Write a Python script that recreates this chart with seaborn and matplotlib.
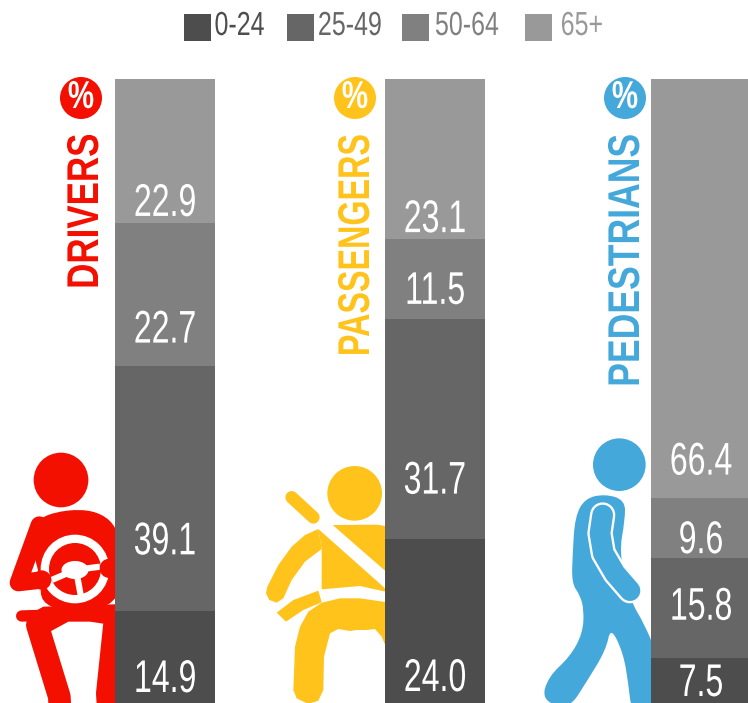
import matplotlib
matplotlib.use('Agg')
import matplotlib.pyplot as plt
from matplotlib.patches import Circle, Ellipse, PathPatch, Polygon, Rectangle
from matplotlib.path import Path
from matplotlib.patheffects import AbstractPathEffect
from matplotlib.transforms import Affine2D
import seaborn as sns
import pandas as pd

groups = ['DRIVERS', 'PASSENGERS', 'PEDESTRIANS']
ages = ['0-24', '25-49', '50-64', '65+']
drivers = [14.9, 39.1, 22.7, 22.9]
passengers = [24.0, 31.7, 11.5, 23.1]
pedestrians = [7.5, 15.8, 9.6, 66.4]

age_colors = ['#4d4d4d', '#666666', '#808080', '#999999']
group_colors = ['#f31000', '#ffc31b', '#45a8db']

W, H = 748, 703
FONT = ['Liberation Sans', 'DejaVu Sans']


class Squeeze(AbstractPathEffect):
    # no narrow font installed, so squash the glyphs along the baseline
    def __init__(self, sx, keep_end=False):
        super().__init__()
        self.sx = sx
        self.keep_end = keep_end

    def draw_path(self, renderer, gc, tpath, affine, rgbFace=None):
        ext = tpath.get_extents()
        pin = ext.x1 if self.keep_end else (ext.x0 + ext.x1) / 2
        local = Affine2D().translate(-pin, 0).scale(self.sx, 1).translate(pin, 0)
        renderer.draw_path(gc, tpath, local + affine, rgbFace)


rows = []
for g, vals in zip(groups, [drivers, passengers, pedestrians]):
    for a, v in zip(ages, vals):
        rows.append({'group': g, 'age': a, 'value': v})
df = pd.DataFrame(rows)
df['share'] = df['value'] / df.groupby('group')['value'].transform('sum')
df['top'] = df.groupby('group')['share'].cumsum()
df['base'] = df['top'] - df['share']

sns.set_style('white')
plt.rcParams['font.family'] = FONT
fig = plt.figure(figsize=(W / 100, H / 100), dpi=100)

# icons and titles go underneath, in pixel coords
bg = fig.add_axes([0, 0, 1, 1], zorder=0)
bg.set_xlim(0, W)
bg.set_ylim(H, 0)
bg.axis('off')


def to_px(pts, ox, oy):
    # pts are in 3x crop coords
    return [(ox + p[0] / 3, oy + p[1] / 3) for p in pts]


def line(pts, ox, oy, color, width, zorder=2):
    px = to_px(pts, ox, oy)
    bg.plot([p[0] for p in px], [p[1] for p in px], color=color, lw=width * 0.72 / 3,
            solid_capstyle='round', solid_joinstyle='round', zorder=zorder)


def poly(pts, ox, oy, color):
    bg.add_patch(Polygon(to_px(pts, ox, oy), closed=True, fc=color, ec='none', zorder=2))


def blob(pts, ox, oy, color):
    # closed quadratic spline through the edge midpoints, rounds off the corners
    px = to_px(pts, ox, oy)
    mids = [((px[i][0] + px[(i + 1) % len(px)][0]) / 2, (px[i][1] + px[(i + 1) % len(px)][1]) / 2)
            for i in range(len(px))]
    verts = [mids[-1]]
    codes = [Path.MOVETO]
    for i in range(len(px)):
        verts += [px[i], mids[i]]
        codes += [Path.CURVE3, Path.CURVE3]
    bg.add_patch(PathPatch(Path(verts, codes), fc=color, ec='none', zorder=2))


def disc(x, y, r, ox, oy, color, zorder=2):
    bg.add_patch(Circle((ox + x / 3, oy + y / 3), r / 3, fc=color, ec='none', zorder=zorder))


# driver
c = group_colors[0]
ox, oy = 0, 430
disc(183, 150, 82, ox, oy, c)
blob([(118, 252), (285, 232), (370, 310), (370, 540), (125, 545), (120, 430), (85, 330)], ox, oy, c)
line([(118, 285), (55, 458), (125, 450)], ox, oy, c, 52)
line([(65, 558), (130, 556)], ox, oy, c, 34)
poly([(75, 560), (130, 530), (370, 522), (370, 590), (270, 575), (205, 575), (150, 605)], ox, oy, c)
line([(112, 585), (178, 800), (180, 840)], ox, oy, c, 68)
line([(345, 570), (322, 790), (325, 840)], ox, oy, c, 68)
disc(225, 417, 103, ox, oy, 'white', 3)
disc(225, 417, 78, ox, oy, c, 3)
for seg in [[(155, 450), (225, 420)], [(225, 420), (300, 410)], [(230, 430), (242, 495)]]:
    px = to_px(seg, ox, oy)
    bg.plot([p[0] for p in px], [p[1] for p in px], color='white', lw=4.5, zorder=4,
            solid_capstyle='butt')
bg.add_patch(Ellipse((ox + 225 / 3, oy + 420 / 3), 27, 18, fc='white', ec='none', zorder=4))
disc(125, 450, 29, ox, oy, c, 5)
disc(328, 415, 29, ox, oy, c, 5)

# passenger
c = group_colors[1]
ox, oy = 250, 430
disc(314, 190, 82, ox, oy, c)
line([(125, 202), (190, 262)], ox, oy, c, 38)
poly([(248, 285), (380, 284), (420, 290), (420, 435)], ox, oy, c)
poly([(205, 297), (165, 315), (125, 350), (85, 405), (52, 470), (48, 490), (58, 510), (80, 518), (100, 505),
      (125, 450), (165, 395), (215, 357)], ox, oy, c)
poly([(215, 357), (205, 297), (420, 488), (330, 468), (215, 478)], ox, oy, c)
poly([(80, 548), (130, 510), (205, 482), (215, 517), (160, 540), (108, 575)], ox, oy, c)
poly([(420, 518), (330, 505), (270, 505), (215, 518), (175, 545), (150, 590), (135, 650), (130, 780), (140, 805),
      (175, 822), (205, 812), (220, 780), (222, 680), (240, 610), (265, 597), (300, 603), (320, 600), (350, 600),
      (375, 597), (395, 620), (420, 680)], ox, oy, c)

# pedestrian
c = group_colors[2]
ox, oy = 520, 420
disc(298, 134, 79, ox, oy, c)
blob([(255, 222), (315, 240), (315, 300), (297, 400), (330, 540), (372, 610), (410, 700), (420, 880), (335, 880),
      (325, 790), (310, 700), (272, 620), (258, 690), (200, 785), (145, 870), (65, 840), (85, 770),
      (150, 710), (188, 640), (192, 570), (180, 525), (155, 490), (158, 400), (165, 290), (195, 235)], ox, oy, c)
arm = [(248, 285), (240, 340), (250, 400), (285, 460), (330, 512)]
line(arm, ox, oy, 'white', 76)
line(arm, ox, oy, c, 62)

# big group titles, pinned at the top end since the circle sits right above
title_x = [86.5, 357.5, 627.5]
title_squeeze = [0.786, 0.727, 0.80]
circle_x = [81, 355, 625]
for i, g in enumerate(groups):
    t = bg.text(title_x[i], 133, g, rotation=90, ha='center', va='top', color=group_colors[i],
                fontsize=32, fontweight='bold', family=FONT)
    t.set_path_effects([Squeeze(title_squeeze[i], keep_end=True)])
    bg.add_patch(Circle((circle_x[i], 98), 21, fc=group_colors[i], ec='none'))
    t = bg.text(circle_x[i], 98, '%', ha='center', va='center', color='white', fontsize=28,
                fontweight='bold', family=FONT)
    t.set_path_effects([Squeeze(0.76)])

# legend
swatch_x = [184, 287, 402, 525]
text_mid = [239.5, 350, 467, 582]
for sx, tx, a, col in zip(swatch_x, text_mid, ages, age_colors):
    bg.add_patch(Rectangle((sx, 14), 27, 27, fc=col, ec='none'))
    t = bg.text(tx, 26.5, a, ha='center', va='center', color=col, fontsize=24, family=FONT)
    t.set_path_effects([Squeeze(0.75)])

# stacked bars, one axes per group since the gaps differ
bar_left = [115, 385, 651]
# how far above the segment base each value sits, px
label_up = [[25, 69, 35, 19], [26, 57, 27, 19], [21, 50, 17, 35]]
for i, g in enumerate(groups):
    # the stack runs 2px past the bottom edge of the picture
    ax = fig.add_axes([bar_left[i] / W, -2 / H, 100 / W, 626 / H], zorder=2)
    sub = df[df['group'] == g]
    # tallest cumulative first so the lower ones paint over it
    for a, col in reversed(list(zip(ages, age_colors))):
        sns.barplot(data=sub[sub['age'] == a], x='group', y='top', color=col, width=1,
                    saturation=1, linewidth=0, ax=ax, errorbar=None)
    ax.set_xlim(-0.5, 0.5)
    ax.set_ylim(0, 1)
    ax.axis('off')
    for (_, row), up in zip(sub.iterrows(), label_up[i]):
        t = ax.annotate(f"{row['value']:.1f}", (0, row['base']), xytext=(0, up * 0.72),
                        textcoords='offset points', ha='center', va='center', color='white',
                        fontsize=33, family=FONT, annotation_clip=False)
        t.set_path_effects([Squeeze(0.70)])

fig.savefig('out.png', dpi=100)
